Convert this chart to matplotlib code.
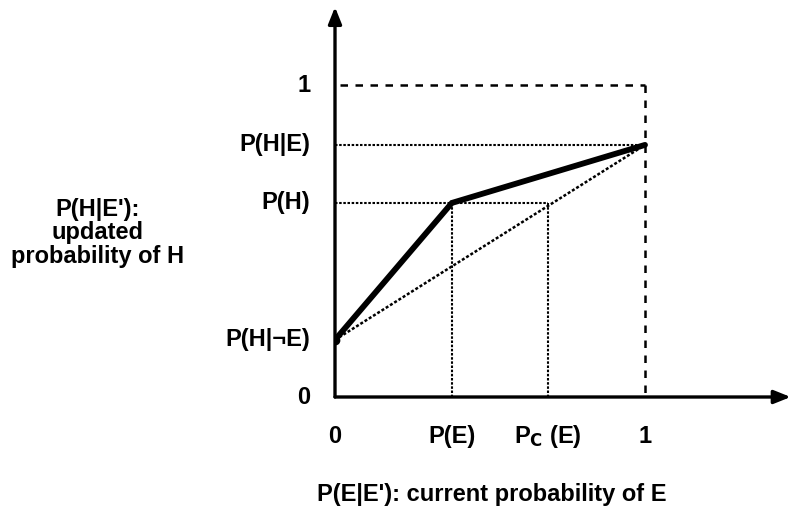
# Librerías
import matplotlib.pyplot as plt

plt.rcParams['font.family'] = ['Liberation Sans', 'DejaVu Sans']
plt.rcParams['mathtext.default'] = 'regular'

p_e = 0.377        # P(E)
p_c_e = 0.687      # P_C(E)
p_h = 0.622        # P(H)
p_h_e = 0.808      # P(H|E)
p_h_note = 0.183   # P(H|¬E)

curve_x = [0, p_e, 1]
curve_y = [p_h_note, p_h, p_h_e]
chord_x = [0, 1]
chord_y = [p_h_note, p_h_e]

xtick_pos = [0, p_e, p_c_e, 1]
xtick_lab = ['0', 'P(E)', r'P$_{\mathbf{C}}$ (E)', '1']
ytick_pos = [0, p_h_note, p_h, p_h_e, 1]
ytick_lab = ['0', 'P(H|¬E)', 'P(H)', 'P(H|E)', '1']

# Gráfico
fig = plt.figure(figsize=(8.03, 5.07), dpi=100)
ax = fig.add_axes([335 / 803, 110 / 507, 460 / 803, 392 / 507])
ax.set_xlim(0, 460 / 310)
ax.set_ylim(0, 392 / 312)
ax.axis('off')

dot = (0, (1.2, 0.8))
dash = (0, (3, 3))
fs = 17

# ejes con flecha
ax.annotate('', xy=(1.47, 0), xytext=(0, 0), annotation_clip=False,
            arrowprops=dict(arrowstyle='-|>,head_length=1.0,head_width=0.4', lw=2.4, color='black',
                            shrinkA=0, shrinkB=0))
ax.annotate('', xy=(0, 1.25), xytext=(0, 0), annotation_clip=False,
            arrowprops=dict(arrowstyle='-|>,head_length=1.0,head_width=0.4', lw=2.4, color='black',
                            shrinkA=0, shrinkB=0))

# líneas guía
ax.plot([0.015, 1], [1, 1], color='black', lw=1.8, linestyle=dash)
ax.plot([1, 1], [1, 0], color='black', lw=1.8, linestyle=dash)
ax.plot([0, 1], [p_h_e, p_h_e], color='black', lw=1.5, linestyle=dot)
ax.plot([0, p_c_e], [p_h, p_h], color='black', lw=1.5, linestyle=dot)
ax.plot([p_e, p_e], [p_h, 0], color='black', lw=1.5, linestyle=dot)
ax.plot([p_c_e, p_c_e], [p_h, 0], color='black', lw=1.5, linestyle=dot)
ax.plot(chord_x, chord_y, color='black', lw=1.8, linestyle=dot)

# curva
ax.plot(curve_x, curve_y, color='black', lw=4.2, solid_capstyle='round', solid_joinstyle='miter')
ax.plot([0], [p_h_note], 'o', color='black', ms=6)

# etiquetas
for x, lab in zip(xtick_pos, xtick_lab):
    ax.text(x, -0.128, lab, ha='center', va='center', fontsize=fs, fontweight='bold')
for y, lab in zip(ytick_pos, ytick_lab):
    ax.text(-0.08, y, lab, ha='right', va='center', fontsize=fs, fontweight='bold')

fig.text(98 / 803, 1 - 233 / 507, "P(H|E'):\nupdated\nprobability of H",
         ha='center', va='center', fontsize=fs, fontweight='bold', linespacing=1.05)
fig.text(492 / 803, 1 - 494 / 507, "P(E|E'): current probability of E",
         ha='center', va='center', fontsize=fs, fontweight='bold')

fig.savefig('out.png', dpi=100)
